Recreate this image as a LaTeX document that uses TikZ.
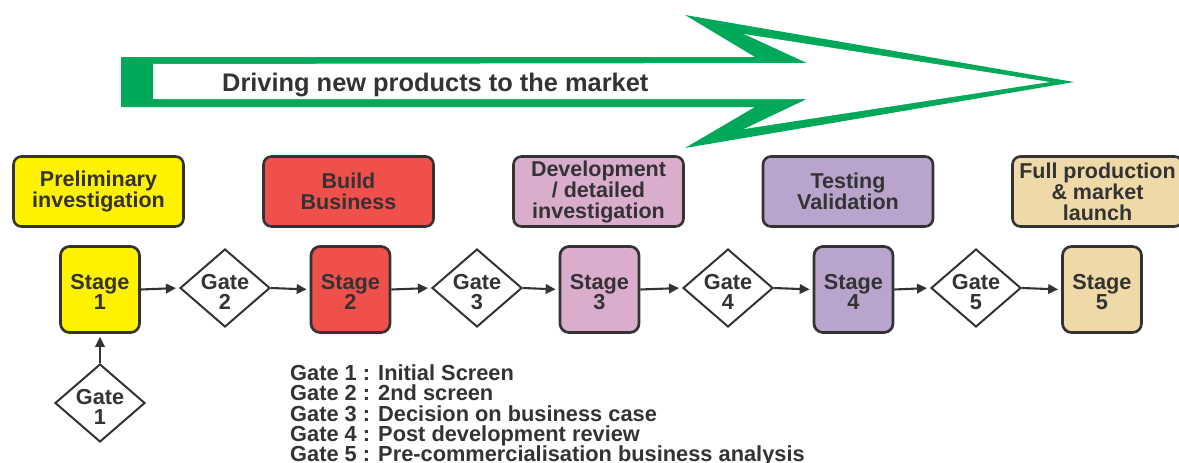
\documentclass[tikz,border=0pt]{standalone}
\usepackage{fontspec}
\setmainfont{Liberation Sans}
\usetikzlibrary{shapes.geometric,arrows.meta}
\definecolor{ink}{RGB}{51,51,51}
\definecolor{arrowgreen}{RGB}{0,168,89}
\definecolor{stageyellow}{RGB}{255,242,0}
\definecolor{stagered}{RGB}{239,80,76}
\definecolor{stagepink}{RGB}{219,173,205}
\definecolor{stagepurple}{RGB}{185,164,206}
\definecolor{stagetan}{RGB}{239,217,168}

\begin{document}
\begin{tikzpicture}[x=1pt,y=-1pt,
  every node/.style={text=ink},
  phasebox/.style={draw=ink, line width=2.6pt, rounded corners=8pt,
    minimum width=170pt, minimum height=70pt, align=center, inner sep=0pt,
    font=\bfseries\fontsize{21.5}{21}\selectfont},
  stagebox/.style={draw=ink, line width=2.7pt, rounded corners=9pt,
    minimum width=79pt, minimum height=86pt, inner sep=0pt},
  gate/.style={draw=ink, line width=2pt, diamond, minimum width=90pt,
    minimum height=78pt, inner sep=0pt, fill=white},
  boxlabel/.style={align=center, inner sep=0pt,
    font=\bfseries\fontsize{21.7}{20}\selectfont},
  flow/.style={draw=ink, line width=2.1pt,
    -{Triangle[length=10pt,width=9.5pt]}, shorten >=3pt},
  legend/.style={anchor=base west, inner sep=0pt,
    font=\bfseries\fontsize{21.8}{20.5}\selectfont}
]
\useasboundingbox (0,0) rectangle (1179,463);

% big outlined arrow
\fill[arrowgreen] (121,57) -- (755,57) -- (685,15) -- (1074,82)
  -- (685,148) -- (755,107) -- (121,107) -- cycle;
\fill[white] (153,64) -- (807,63) -- (744,34) -- (1050,82)
  -- (744,129) -- (807,99) -- (153,99) -- cycle;
\node[anchor=base west, inner sep=0pt,
  font=\bfseries\fontsize{25.4}{30}\selectfont] (title) at (222,91)
  {Driving new products to the market};

% phase descriptions
\node[phasebox, fill=stageyellow] (p1) at (98.5,191.5) {Preliminary\\investigation};
\node[phasebox, fill=stagered]    (p2) at (348.5,191.5) {Build\\Business};
\node[phasebox, fill=stagepink]   (p3) at (598.5,191.5) {Development\\/ detailed\\investigation};
\node[phasebox, fill=stagepurple] (p4) at (848,191.5) {Testing\\Validation};
\node[phasebox, fill=stagetan]    (p5) at (1097.5,191.5) {Full production\\\& market\\launch};

% stages
\node[stagebox, fill=stageyellow] (s1) at (100,289.5) {};
\node[stagebox, fill=stagered]    (s2) at (350.5,289.5) {};
\node[stagebox, fill=stagepink]   (s3) at (599.5,289.5) {};
\node[stagebox, fill=stagepurple] (s4) at (853.5,289.5) {};
\node[stagebox, fill=stagetan]    (s5) at (1102,289.5) {};
\foreach \n in {1,...,5}
  \node[boxlabel] (s\n t) at ([yshift=-2.7pt]s\n.center) {Stage\\\n};

% gates
\node[gate] (g1) at (100,403) {};
\node[gate] (g2) at (225,288) {};
\node[gate] (g3) at (477,288) {};
\node[gate] (g4) at (728,288) {};
\node[gate] (g5) at (976,288) {};
\foreach \n in {1,...,5}
  \node[boxlabel] (g\n t) at ([yshift=-4.2pt]g\n.center) {Gate\\\n};

% flow
\draw[flow] (g1.north) -- (s1.south);
\draw[flow] (s1.east) -- (g2.west);
\draw[flow] (g2.east) -- (s2.west);
\draw[flow] (s2.east) -- (g3.west);
\draw[flow] (g3.east) -- (s3.west);
\draw[flow] (s3.east) -- (g4.west);
\draw[flow] (g4.east) -- (s4.west);
\draw[flow] (s4.east) -- (g5.west);
\draw[flow] (g5.east) -- (s5.west);

% gate legend
\node[legend] (l1) at (290,380) {Gate 1 : Initial Screen};
\node[legend] (l2) at (290,400.5) {Gate 2 : 2nd screen};
\node[legend] (l3) at (290,421) {Gate 3 : Decision on business case};
\node[legend] (l4) at (290,441.5) {Gate 4 : Post development review};
\node[legend] (l5) at (290,461.5) {Gate 5 : Pre-commercialisation business analysis};
\end{tikzpicture}
\end{document}
